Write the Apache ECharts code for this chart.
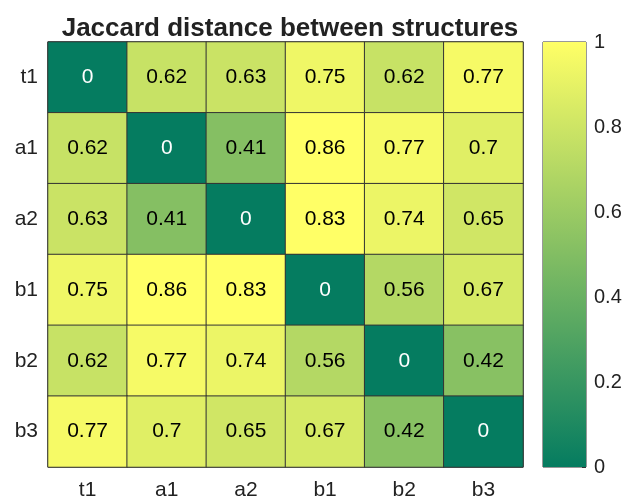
<!DOCTYPE html>
<html>
<head>
<meta charset="utf-8">
<script src="https://cdn.jsdelivr.net/npm/echarts@6/dist/echarts.min.js"></script>
<style>
  html, body { margin: 0; padding: 0; background: #fff; }
  #chart { width: 625px; height: 504px; }
</style>
</head>
<body>
<div id="chart"></div>
<script>
// structures, same order on both axes
const names = ['t1', 'a1', 'a2', 'b1', 'b2', 'b3']
// jaccard distances, one row per structure
const rowT1 = [0, 0.62, 0.63, 0.75, 0.62, 0.77]
const rowA1 = [0.62, 0, 0.41, 0.86, 0.77, 0.7]
const rowA2 = [0.63, 0.41, 0, 0.83, 0.74, 0.65]
const rowB1 = [0.75, 0.86, 0.83, 0, 0.56, 0.67]
const rowB2 = [0.62, 0.77, 0.74, 0.56, 0, 0.42]
const rowB3 = [0.77, 0.7, 0.65, 0.67, 0.42, 0]
const rows = [rowT1, rowA1, rowA2, rowB1, rowB2, rowB3]
// colour bar scale
const barRange = [0, 1]
const barTicks = [0, 0.2, 0.4, 0.6, 0.8, 1]

const font = 'Liberation Sans, Arial, sans-serif'
const cells = []
rows.forEach((row, y) => {
  row.forEach((v, x) => {
    cells.push({
      value: [x, y, v],
      label: { color: v === 0 ? '#fff' : '#000' }
    })
  })
})

const chart = echarts.init(document.getElementById('chart'))
chart.setOption({
  animation: false,
  title: {
    text: 'Jaccard distance between structures',
    left: 285, textAlign: 'center', top: 11,
    textStyle: { fontFamily: font, fontSize: 26, fontWeight: 'bold', color: '#222' }
  },
  grid: [
    { left: 48, top: 42, width: 475, height: 425, show: true, borderColor: '#333', borderWidth: 1 },
    { left: 543, top: 42, width: 43, height: 425, show: true, borderColor: '#333', borderWidth: 1 }
  ],
  xAxis: [
    {
      gridIndex: 0, type: 'category', data: names,
      axisLine: { show: false }, axisTick: { show: false }, splitLine: { show: false },
      axisLabel: { margin: 13, fontFamily: font, fontSize: 21, color: '#222' }
    },
    { gridIndex: 1, type: 'category', data: ['bar'], show: false }
  ],
  yAxis: [
    {
      gridIndex: 0, type: 'category', data: names, inverse: true,
      axisLine: { show: false }, axisTick: { show: false }, splitLine: { show: false },
      axisLabel: { margin: 10, fontFamily: font, fontSize: 21, color: '#222' }
    },
    {
      gridIndex: 1, type: 'value', position: 'right',
      min: barRange[0], max: barRange[1], interval: 0.2,
      axisLine: { show: false }, splitLine: { show: false },
      axisTick: { show: true, inside: true, length: 4, lineStyle: { color: '#333' } },
      axisLabel: {
        margin: 8, fontFamily: font, fontSize: 20, color: '#222',
        formatter: v => barTicks.includes(Math.round(v * 10) / 10) ? String(Math.round(v * 10) / 10) : ''
      }
    }
  ],
  visualMap: {
    show: false, seriesIndex: 0, dimension: 2,
    min: 0, max: 0.8,
    inRange: { color: ['#057c60', '#ffff66'] }
  },
  series: [
    {
      type: 'heatmap', xAxisIndex: 0, yAxisIndex: 0,
      data: cells,
      itemStyle: { borderColor: '#333', borderWidth: 1 },
      label: {
        show: true, fontFamily: font, fontSize: 21,
        formatter: p => String(p.value[2])
      },
      emphasis: { disabled: true }
    },
    {
      type: 'bar', xAxisIndex: 1, yAxisIndex: 1,
      data: [barRange[1]], barWidth: '100%', silent: true,
      itemStyle: {
        color: new echarts.graphic.LinearGradient(0, 0, 0, 1, [
          { offset: 0, color: '#ffff66' },
          { offset: 1, color: '#057c60' }
        ])
      }
    }
  ]
})
</script>
</body>
</html>
